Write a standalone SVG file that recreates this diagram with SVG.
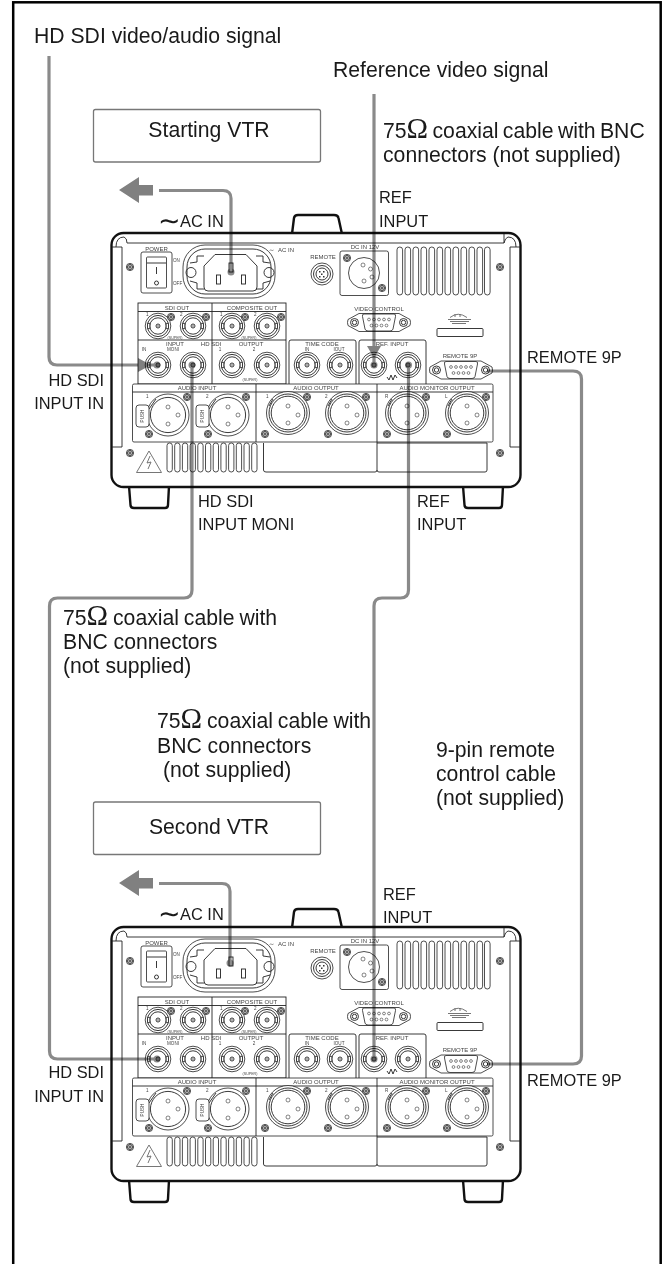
<svg xmlns="http://www.w3.org/2000/svg" width="663" height="1264" viewBox="0 0 663 1264">
<style>
text{font-family:"Liberation Sans",Arial,sans-serif;fill:#1a1a1a}
.big{font-size:21.2px}
.mid{font-size:16.4px}
.om{font-family:"Liberation Serif",serif;font-size:29px}
.sm{font-size:6px;fill:#444}
.xs{font-size:4.6px;fill:#444}
.m{text-anchor:middle}
.tilde{font-family:"DejaVu Sans",sans-serif;font-size:27px}
.box{fill:#fff;stroke:#777;stroke-width:1.3}
.l{fill:none;stroke:#222;stroke-width:.9}
.lt{fill:#fff;stroke:#222;stroke-width:.8}
.thick{fill:#fff;stroke:#111;stroke-width:2.4}
.g{fill:none;stroke:#666;stroke-width:.9}
.dot{fill:#fff;stroke:#333;stroke-width:.6}
.conn{fill:none;stroke:#8a8a8a;stroke-width:3.2;stroke-linejoin:round}
.head{fill:#808080;stroke:none}
.end{fill:#8a8a8a}
#connectors{mix-blend-mode:multiply}
</style>
<defs>
<g id="screw"><circle class="lt" r="3.6"/><circle class="l" r="2.5"/><path class="l" d="M-1.6 0H1.6M0 -1.6V1.6"/></g>
<g id="bnc"><circle class="lt" r="12.8"/><circle class="l" r="10.6"/><circle class="l" r="8.2"/><circle class="l" r="2"/><circle r=".7" fill="#222"/><path class="lt" d="M-10.5 -2.6H-8.2V2.6H-10.5ZM8.2 -2.6H10.5V2.6H8.2Z"/></g>
<g id="xlrF"><circle class="lt" r="21"/><circle class="l" r="17.6"/><path class="l" d="M-12 -16L-19 -6"/><circle class="dot" cx="0" cy="-8" r="2"/><circle class="dot" cx="10" cy="0" r="2"/><circle class="dot" cx="0" cy="9" r="2"/></g>
<g id="xlrM"><circle class="lt" r="21.5"/><circle class="l" r="19"/><circle class="l" r="16.8"/><path class="l" d="M-15 -14L-19 -7"/><circle class="dot" cx="0" cy="-7" r="2"/><circle class="dot" cx="10" cy="2" r="2"/><circle class="dot" cx="0" cy="10" r="2"/></g>
<g id="dsub"><path class="lt" d="M-20 -9H20L31 -3Q32 0 31 3L20 9H-20L-31 3Q-32 0 -31 -3Z"/><circle class="l" cx="-24.5" r="4"/><circle class="l" cx="-24.5" r="2.2"/><circle class="l" cx="24.5" r="4"/><circle class="l" cx="24.5" r="2.2"/><path class="lt" d="M-15 -8.5H15Q17 -8.5 16.5 -6L14 6.5Q13.5 8.5 11 8.5H-11Q-13.5 8.5 -14 6.5L-16.5 -6Q-17 -8.5 -15 -8.5Z"/><g class="dot"><circle cx="-10" cy="-3" r="1.4"/><circle cx="-5" cy="-3" r="1.4"/><circle cx="0" cy="-3" r="1.4"/><circle cx="5" cy="-3" r="1.4"/><circle cx="10" cy="-3" r="1.4"/><circle cx="-7.5" cy="3" r="1.4"/><circle cx="-2.5" cy="3" r="1.4"/><circle cx="2.5" cy="3" r="1.4"/><circle cx="7.5" cy="3" r="1.4"/></g></g>
<g id="panel">
<path class="thick" d="M129 486L130.500 505Q130.500 508 134 508H165Q168 508 168 505L169 486ZM463 486L464.500 505Q464.500 508 468 508H499Q502 508 502 505L503 486Z"/>
<path class="thick" d="M292 234L294 218Q294.500 215 298 215H334Q338 215 338.500 218L342 234Z"/>
<rect class="thick" x="111.500" y="233" width="409" height="254" rx="12"/>
<path class="l" d="M112 247H122V447H112M116 247Q116 237 124 237Q127 238 127 243H504V234M520 247H510V447H520M516 247Q516 237 508 237Q505 238 504 243"/>
<use href="#screw" x="130" y="267"/><use href="#screw" x="500" y="267"/><use href="#screw" x="130" y="453"/><use href="#screw" x="500" y="453"/>
<rect class="lt" x="141" y="252" width="31" height="41" rx="2"/>
<rect class="lt" x="146.500" y="257" width="20" height="31" rx="1"/>
<path class="l" d="M147 263H166M156.500 267V274"/><circle class="l" cx="156.500" cy="283" r="2"/>
<rect class="lt" x="183" y="245" width="92" height="53" rx="22"/>
<rect class="l" x="187" y="249" width="84" height="45" rx="18"/>
<path class="l" d="M204 256H197V262L190 263M204 289H197V283L190 281M256 256H263V262L270 263M256 289H263V283L270 281"/>
<circle class="l" cx="191" cy="272.500" r="5"/><circle class="l" cx="269" cy="272.500" r="5"/>
<path class="l" d="M215 254.500H246L257 266V287Q257 291 253 291H208Q204 291 204 287V266Z"/>
<rect class="l" x="216.500" y="275" width="4" height="9"/><rect class="l" x="241.500" y="275" width="4" height="9"/><rect class="l" x="229" y="263" width="4" height="9"/>
<circle class="lt" cx="322" cy="274" r="11"/><circle class="l" cx="322" cy="274" r="8.500"/><circle class="l" cx="322" cy="274" r="6"/><path d="M319 271h1.500v1.500h-1.500zM323 271h1.500v1.500h-1.500zM319 276h1.500v1.500h-1.500zM323 276h1.500v1.500h-1.500zM321 273.500h1.500v1.500h-1.500z" fill="#333"/>
<rect class="lt" x="340" y="251" width="48.500" height="44.500" rx="2"/>
<circle class="lt" cx="364" cy="273" r="15.500"/><use href="#screw" x="347" y="258"/><use href="#screw" x="382" y="288"/>
<circle class="dot" cx="363" cy="265" r="2"/><circle class="dot" cx="370.500" cy="269" r="2"/><circle class="dot" cx="372" cy="277" r="2"/><circle class="dot" cx="364" cy="281" r="2"/>
<g id="vent-top"><rect class="lt" x="397" y="247" width="5.600" height="48" rx="2.800"/><rect class="lt" x="405" y="247" width="5.600" height="48" rx="2.800"/><rect class="lt" x="413" y="247" width="5.600" height="48" rx="2.800"/><rect class="lt" x="421" y="247" width="5.600" height="48" rx="2.800"/><rect class="lt" x="429" y="247" width="5.600" height="48" rx="2.800"/><rect class="lt" x="437" y="247" width="5.600" height="48" rx="2.800"/><rect class="lt" x="445" y="247" width="5.600" height="48" rx="2.800"/><rect class="lt" x="453" y="247" width="5.600" height="48" rx="2.800"/><rect class="lt" x="461" y="247" width="5.600" height="48" rx="2.800"/><rect class="lt" x="469" y="247" width="5.600" height="48" rx="2.800"/><rect class="lt" x="477" y="247" width="5.600" height="48" rx="2.800"/><rect class="lt" x="484.500" y="247" width="5.600" height="48" rx="2.800"/></g>
<use href="#dsub" x="379" y="322.500"/>
<path class="g" d="M448 319.500H471M450 321.500H469M452 323.500H466M450 317.500Q458 311 467 317.500M455 317V314M460 317V314"/>
<rect class="l" x="437" y="328.500" width="46" height="8" rx="1"/>
<rect class="l" x="138" y="303" width="148" height="81"/>
<path class="l" d="M138 311.500H286M212 303V384M138 340H286"/>
<use href="#bnc" x="158" y="326"/><use href="#bnc" x="193" y="326"/><use href="#bnc" x="232" y="326"/><use href="#bnc" x="267" y="326"/>
<use href="#screw" x="171" y="317"/><use href="#screw" x="206" y="317"/><use href="#screw" x="245" y="317"/><use href="#screw" x="281" y="317"/>
<use href="#bnc" x="158" y="365"/><use href="#bnc" x="193" y="365"/><use href="#bnc" x="232" y="365"/><use href="#bnc" x="267" y="365"/>
<path class="l" d="M289 384V342Q289 340 291 340H354Q356 340 356 342V384"/>
<use href="#bnc" x="307" y="365"/><use href="#bnc" x="340" y="365"/>
<path class="l" d="M359 384V342Q359 340 361 340H424Q426 340 426 342V384"/>
<use href="#bnc" x="374" y="365"/><use href="#bnc" x="408" y="365"/>
<path class="l" d="M387 377L389 380L391 375L393 380L395 375L397 378"/>
<use href="#dsub" x="461" y="370"/>
<rect class="lt" x="132.500" y="384" width="360.500" height="58" rx="1.500"/>
<path class="l" d="M132.500 392H493M256 384V442M377 384V442"/>
<use href="#xlrF" x="168" y="415"/><use href="#xlrF" x="228" y="415"/>
<use href="#xlrM" x="288" y="413"/><use href="#xlrM" x="347" y="413"/><use href="#xlrM" x="407" y="413"/><use href="#xlrM" x="467" y="413"/>
<use href="#screw" x="187" y="397"/><use href="#screw" x="149" y="434"/><use href="#screw" x="246" y="397"/><use href="#screw" x="208" y="434"/><use href="#screw" x="307" y="397"/><use href="#screw" x="265" y="434"/><use href="#screw" x="366" y="397"/><use href="#screw" x="328" y="434"/><use href="#screw" x="426" y="397"/><use href="#screw" x="387" y="434"/><use href="#screw" x="486" y="397"/><use href="#screw" x="447" y="434"/>
<rect class="lt" x="136" y="405" width="13" height="22" rx="3"/><rect class="lt" x="196" y="405" width="13" height="22" rx="3"/>
<path class="l" d="M263.500 443V470Q263.500 472 266 472H375Q377 472 377 470V442M377 470Q377 472 379 472H485Q487 472 487 470V443H377"/>
<g id="vent-bottom"><rect class="lt" x="167" y="443" width="5.300" height="29" rx="2.600"/><rect class="lt" x="174.700" y="443" width="5.300" height="29" rx="2.600"/><rect class="lt" x="182.400" y="443" width="5.300" height="29" rx="2.600"/><rect class="lt" x="190.100" y="443" width="5.300" height="29" rx="2.600"/><rect class="lt" x="197.800" y="443" width="5.300" height="29" rx="2.600"/><rect class="lt" x="205.500" y="443" width="5.300" height="29" rx="2.600"/><rect class="lt" x="213.200" y="443" width="5.300" height="29" rx="2.600"/><rect class="lt" x="220.900" y="443" width="5.300" height="29" rx="2.600"/><rect class="lt" x="228.600" y="443" width="5.300" height="29" rx="2.600"/><rect class="lt" x="236.300" y="443" width="5.300" height="29" rx="2.600"/><rect class="lt" x="244" y="443" width="5.300" height="29" rx="2.600"/><rect class="lt" x="251.700" y="443" width="5.300" height="29" rx="2.600"/></g>
<path class="g" d="M149 451L136.500 472.500H161.500ZM150 456L147 463L151 462L148 469"/>
</g>
</defs>
<rect x="13.200" y="2.300" width="647.500" height="1270" fill="none" stroke="#000" stroke-width="2.500"/>

<g id="starting-vtr-label"><rect class="box" x="93.500" y="109.500" width="227" height="52.500" rx="2"/><text class="big m" x="209" y="137">Starting VTR</text></g>
<g id="second-vtr-label"><rect class="box" x="93.500" y="802" width="227" height="52.500" rx="2"/><text class="big m" x="209" y="834">Second VTR</text></g>

<g id="starting-vtr">
<use href="#panel"/>
<text class="sm m" x="156.500" y="251">POWER</text><text class="xs" x="173" y="262">ON</text><text class="xs" x="173" y="285">OFF</text>
<text class="sm" x="269" y="251.500" style="font-family:'DejaVu Sans',sans-serif">∼</text><text class="sm" x="278" y="251.500">AC IN</text>
<text class="sm m" x="323" y="259">REMOTE</text><text class="sm m" x="365" y="249">DC IN 12V</text><text class="sm m" x="379" y="311">VIDEO CONTROL</text>
<text class="sm m" x="177" y="310">SDI OUT</text><text class="sm m" x="252" y="310">COMPOSITE OUT</text>
<text class="xs" x="146" y="316">1</text><text class="xs" x="180" y="316">2</text><text class="xs" x="220" y="316">1</text><text class="xs" x="254" y="316">2</text>
<text class="xs m" x="175" y="339" style="font-size:3.600px">(SUPER)</text><text class="xs m" x="249" y="339" style="font-size:3.600px">(SUPER)</text>
<text class="sm m" x="175" y="346">INPUT</text><text class="sm m" x="211" y="346">HD SDI</text><text class="sm m" x="251" y="346">OUTPUT</text>
<text class="xs m" x="144" y="351">IN</text><text class="xs m" x="173" y="351">MONI</text><text class="xs m" x="220" y="351">1</text><text class="xs m" x="254" y="351">2</text>
<text class="xs m" x="250" y="381" style="font-size:3.600px">(SUPER)</text>
<text class="sm m" x="322" y="346">TIME CODE</text><text class="xs m" x="307" y="351">IN</text><text class="xs m" x="339" y="351">IOUT</text>
<text class="sm m" x="392" y="346">REF. INPUT</text><text class="sm m" x="460" y="358">REMOTE 9P</text>
<text class="sm m" x="197" y="390">AUDIO INPUT</text><text class="sm m" x="316" y="390">AUDIO OUTPUT</text><text class="sm m" x="437" y="390">AUDIO MONITOR OUTPUT</text>
<text class="xs" x="146" y="398">1</text><text class="xs" x="206" y="398">2</text><text class="xs" x="266" y="398">1</text><text class="xs" x="325" y="398">2</text><text class="xs" x="385" y="398">R</text><text class="xs" x="445" y="398">L</text>
<text class="xs m" transform="translate(144,416) rotate(-90)">PUSH</text><text class="xs m" transform="translate(204,416) rotate(-90)">PUSH</text>
</g>

<g id="second-vtr" transform="translate(0,694)">
<use href="#panel"/>
<text class="sm m" x="156.500" y="251">POWER</text><text class="xs" x="173" y="262">ON</text><text class="xs" x="173" y="285">OFF</text>
<text class="sm" x="269" y="251.500" style="font-family:'DejaVu Sans',sans-serif">∼</text><text class="sm" x="278" y="251.500">AC IN</text>
<text class="sm m" x="323" y="259">REMOTE</text><text class="sm m" x="365" y="249">DC IN 12V</text><text class="sm m" x="379" y="311">VIDEO CONTROL</text>
<text class="sm m" x="177" y="310">SDI OUT</text><text class="sm m" x="252" y="310">COMPOSITE OUT</text>
<text class="xs" x="146" y="316">1</text><text class="xs" x="180" y="316">2</text><text class="xs" x="220" y="316">1</text><text class="xs" x="254" y="316">2</text>
<text class="xs m" x="175" y="339" style="font-size:3.600px">(SUPER)</text><text class="xs m" x="249" y="339" style="font-size:3.600px">(SUPER)</text>
<text class="sm m" x="175" y="346">INPUT</text><text class="sm m" x="211" y="346">HD SDI</text><text class="sm m" x="251" y="346">OUTPUT</text>
<text class="xs m" x="144" y="351">IN</text><text class="xs m" x="173" y="351">MONI</text><text class="xs m" x="220" y="351">1</text><text class="xs m" x="254" y="351">2</text>
<text class="xs m" x="250" y="381" style="font-size:3.600px">(SUPER)</text>
<text class="sm m" x="322" y="346">TIME CODE</text><text class="xs m" x="307" y="351">IN</text><text class="xs m" x="339" y="351">IOUT</text>
<text class="sm m" x="392" y="346">REF. INPUT</text><text class="sm m" x="460" y="358">REMOTE 9P</text>
<text class="sm m" x="197" y="390">AUDIO INPUT</text><text class="sm m" x="316" y="390">AUDIO OUTPUT</text><text class="sm m" x="437" y="390">AUDIO MONITOR OUTPUT</text>
<text class="xs" x="146" y="398">1</text><text class="xs" x="206" y="398">2</text><text class="xs" x="266" y="398">1</text><text class="xs" x="325" y="398">2</text><text class="xs" x="385" y="398">R</text><text class="xs" x="445" y="398">L</text>
<text class="xs m" transform="translate(144,416) rotate(-90)">PUSH</text><text class="xs m" transform="translate(204,416) rotate(-90)">PUSH</text>
</g>

<g id="connectors">
<path class="conn" d="M49 56V357Q49 365 57 365H156"/>
<polygon class="head" points="138,358 138,372 151,365"/><circle class="end" cx="157" cy="365" r="3.500"/>
<path class="conn" d="M374 94V365"/>
<polygon class="head" points="367,346 381,346 374,358"/><circle class="end" cx="374" cy="365" r="3.500"/>
<path class="conn" d="M159 190.500H223Q231 190.500 231 198.500V272"/>
<polygon class="head" points="119,190 139,177 139,185 153,185 153,195.500 139,195.500 139,203"/><circle class="end" cx="231" cy="272" r="3.500"/>
<path class="conn" d="M159 883.500H222Q230 883.500 230 891.500V963"/>
<polygon class="head" points="119,883 139,870 139,878 153,878 153,888.500 139,888.500 139,896"/><circle class="end" cx="230" cy="963" r="3.500"/>
<path class="conn" d="M192 365V590Q192 598 184 598H57.500Q49.500 598 49.500 606V1051Q49.500 1059 57.500 1059H157"/>
<circle class="end" cx="192" cy="365" r="3.500"/><circle class="end" cx="157" cy="1059" r="3.500"/>
<path class="conn" d="M408.500 365V590Q408.500 598 400.500 598H382Q374 598 374 606V1059"/>
<circle class="end" cx="408.500" cy="365" r="3.500"/><circle class="end" cx="374" cy="1059" r="3.500"/>
<path class="conn" d="M487 371H573Q581.500 371 581.500 379V1056Q581.500 1064 573 1064H487"/>
</g>

<g id="labels">
<text class="big" x="34" y="43">HD SDI video/audio signal</text>
<text class="big" x="333" y="77">Reference video signal</text>
<text class="big" x="383" y="138" word-spacing="-1.500">75<tspan class="om">Ω</tspan> coaxial cable with BNC</text>
<text class="big" x="383" y="162">connectors (not supplied)</text>
<text class="mid" x="379" y="203">REF</text><text class="mid" x="379" y="227">INPUT</text>
<text class="mid" x="198" y="507">HD SDI</text><text class="mid" x="198" y="530">INPUT MONI</text>
<text class="mid" x="417" y="507">REF</text><text class="mid" x="417" y="530">INPUT</text>
<text class="mid" x="104" y="386" text-anchor="end">HD SDI</text><text class="mid" x="104" y="409" text-anchor="end">INPUT IN</text>
<text class="mid" x="527" y="363">REMOTE 9P</text>
<text class="mid" x="527" y="1086">REMOTE 9P</text>
<text class="mid" x="104" y="1078" text-anchor="end">HD SDI</text><text class="mid" x="104" y="1102" text-anchor="end">INPUT IN</text>
<text class="mid" x="383" y="900">REF</text><text class="mid" x="383" y="923">INPUT</text>
<text class="tilde" x="158" y="230">∼</text><text class="mid" x="180" y="227">AC IN</text>
<text class="tilde" x="158" y="923">∼</text><text class="mid" x="180" y="920">AC IN</text>
<text class="big" x="63" y="625" word-spacing="-1">75<tspan class="om">Ω</tspan> coaxial cable with</text>
<text class="big" x="63" y="649">BNC connectors</text><text class="big" x="63" y="673">(not supplied)</text>
<text class="big" x="157" y="728" word-spacing="-1">75<tspan class="om">Ω</tspan> coaxial cable with</text>
<text class="big" x="157" y="752.500">BNC connectors</text><text class="big" x="163" y="776.500">(not supplied)</text>
<text class="big" x="436" y="757">9-pin remote</text><text class="big" x="436" y="781">control cable</text><text class="big" x="436" y="805">(not supplied)</text>
</g>
</svg>
